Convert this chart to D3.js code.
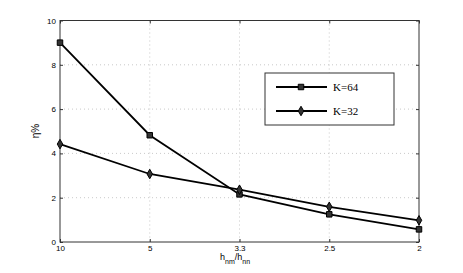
<!DOCTYPE html>
<html><head><meta charset="utf-8">
<script src="https://cdn.jsdelivr.net/npm/d3@7"></script>
<style>body{margin:0;background:#fff}</style>
</head><body>
<svg id="c" width="463" height="273"></svg>
<script>
const categories = ["10","5","3.3","2.5","2"];
const k64 = [9.0, 4.82, 2.15, 1.25, 0.57];
const k32 = [4.42, 3.07, 2.36, 1.59, 0.98];
const yTicks = [0,2,4,6,8,10];
const seriesNames = ["K=64","K=32"];

const svg = d3.select("#c");
const L=60, R=419, T=20.5, B=242;
const x = d3.scalePoint().domain(categories).range([L,R]);
const y = d3.scaleLinear().domain([0,10]).range([B,T]);

// grid
const g = svg.append("g");
g.selectAll(".gx").data(categories.slice(1,-1)).join("line")
  .attr("x1",d=>x(d)).attr("x2",d=>x(d)).attr("y1",T).attr("y2",B)
  .attr("stroke","#bbb").attr("stroke-width",0.8).attr("stroke-dasharray","1,3");
g.selectAll(".gy").data(yTicks.slice(1,-1)).join("line")
  .attr("x1",L).attr("x2",R).attr("y1",d=>y(d)).attr("y2",d=>y(d))
  .attr("stroke","#bbb").attr("stroke-width",0.8).attr("stroke-dasharray","1,3");

// frame
svg.append("rect").attr("x",L).attr("y",T).attr("width",R-L).attr("height",B-T)
  .attr("fill","none").attr("stroke","#333").attr("stroke-width",1);

// axes
const ax = d3.axisBottom(x).tickSize(-3).tickPadding(4);
const gx = svg.append("g").attr("transform",`translate(0,${B})`).call(ax);
gx.select(".domain").remove();
gx.selectAll("text").attr("font-family","Liberation Sans, Arial, sans-serif").attr("font-size",8).attr("fill","#000").attr("dy","0.6em");
gx.selectAll("line").attr("stroke","#333");
const ay = d3.axisLeft(y).tickValues(yTicks).tickSize(-3).tickPadding(4);
const gy = svg.append("g").attr("transform",`translate(${L},0)`).call(ay);
gy.select(".domain").remove();
gy.selectAll("text").attr("font-family","Liberation Sans, Arial, sans-serif").attr("font-size",8).attr("fill","#000");
gy.selectAll("line").attr("stroke","#333");
const gy2 = svg.append("g").attr("transform",`translate(${R},0)`).call(d3.axisRight(y).tickValues(yTicks).tickSize(-3).tickFormat(""));
gy2.select(".domain").remove(); gy2.selectAll("line").attr("stroke","#333");
const gx2 = svg.append("g").attr("transform",`translate(0,${T})`).call(d3.axisTop(x).tickSize(-3).tickFormat(""));
gx2.select(".domain").remove(); gx2.selectAll("line").attr("stroke","#333");

// lines
const line = d3.line().x((d,i)=>x(categories[i])).y(d=>y(d));
[k64,k32].forEach(s=>{
  svg.append("path").datum(s).attr("d",line).attr("fill","none").attr("stroke","#000").attr("stroke-width",1.8);
});
const sq = d3.symbol().type(d3.symbolSquare).size(30);
const di = d3.symbol().type(d3.symbolDiamond).size(26);
svg.append("g").selectAll("path").data(k64).join("path")
  .attr("transform",(d,i)=>`translate(${x(categories[i])},${y(d)})`).attr("d",sq)
  .attr("fill","#333").attr("stroke","#000").attr("stroke-width",1);
svg.append("g").selectAll("path").data(k32).join("path")
  .attr("transform",(d,i)=>`translate(${x(categories[i])},${y(d)})`).attr("d",di)
  .attr("fill","#333").attr("stroke","#000").attr("stroke-width",1);

// legend
const lg = svg.append("g");
lg.append("rect").attr("x",265).attr("y",73).attr("width",129).attr("height",52)
  .attr("fill","#fff").attr("stroke","#333").attr("stroke-width",1);
[[87,sq,seriesNames[0]],[111,di,seriesNames[1]]].forEach(([yy,sym,name])=>{
  lg.append("line").attr("x1",276).attr("x2",327).attr("y1",yy).attr("y2",yy).attr("stroke","#000").attr("stroke-width",1.8);
  lg.append("path").attr("transform",`translate(301,${yy})`).attr("d",sym).attr("fill","#333").attr("stroke","#000");
  lg.append("text").attr("x",333).attr("y",yy+4).attr("font-family","Liberation Serif, Times New Roman, serif").attr("font-size",11).attr("fill","#000").text(name);
});

// axis labels
svg.append("text").attr("transform","translate(39,131) rotate(-90)").attr("text-anchor","middle")
  .attr("font-family","Liberation Sans, Arial, sans-serif").attr("font-size",10).attr("fill","#000").text("η%");
const xl = svg.append("text").attr("x",220).attr("y",260).attr("font-family","Liberation Sans, Arial, sans-serif").attr("font-size",9).attr("fill","#000");
xl.append("tspan").attr("fill","#000").text("h");
xl.append("tspan").attr("fill","#000").attr("font-size",7).attr("dy",4).text("nm");
xl.append("tspan").attr("fill","#000").attr("dy",-4).text("/h");
xl.append("tspan").attr("fill","#000").attr("font-size",7).attr("dy",4).text("nn");
</script>
</body></html>
